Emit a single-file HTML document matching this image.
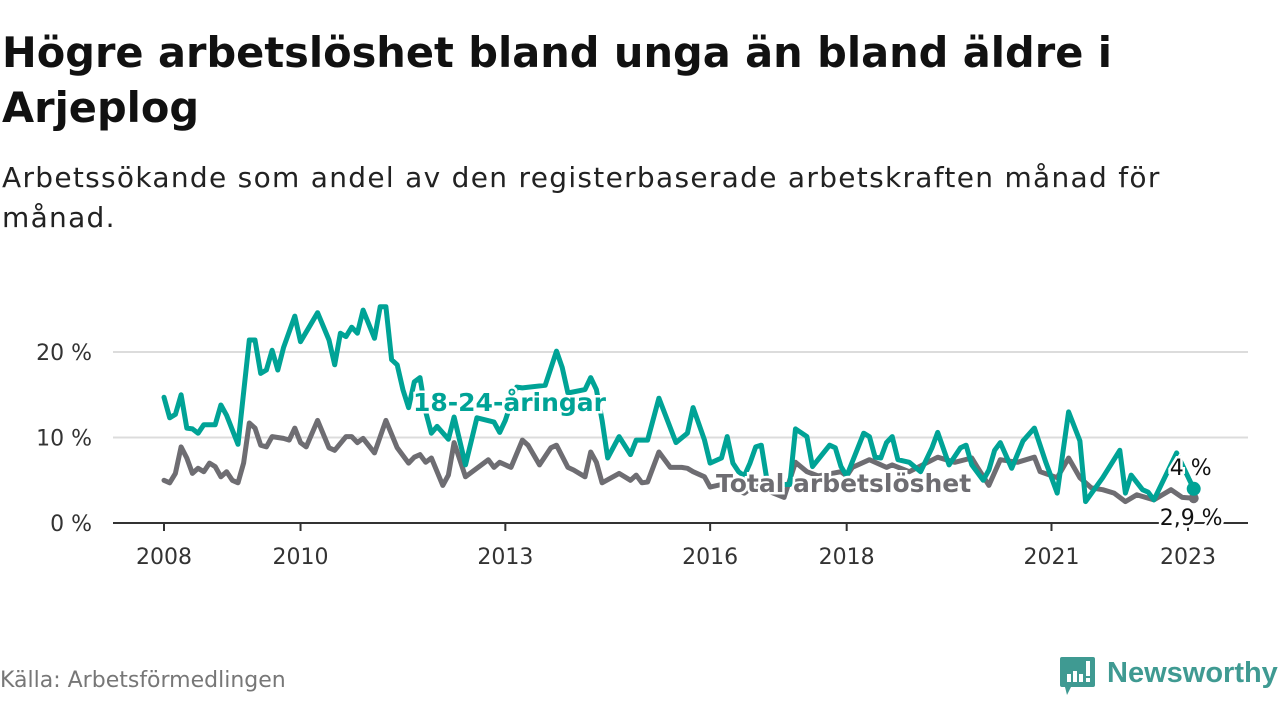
<!DOCTYPE html>
<html><head><meta charset="utf-8">
<style>
html,body{margin:0;padding:0;background:#fff;width:1280px;height:720px;overflow:hidden;font-family:"DejaVu Sans",sans-serif;}
#title{position:absolute;left:2px;top:25px;font-size:41.5px;font-weight:bold;line-height:55px;color:#111;margin:0;white-space:nowrap;}
#subtitle{position:absolute;left:2px;top:158px;font-size:28px;line-height:40px;color:#222;margin:0;white-space:nowrap;letter-spacing:1.3px;}
#source{position:absolute;left:0;top:668px;font-size:22px;color:#777;}
#logo{position:absolute;left:1060px;top:655px;}
svg text{font-family:"DejaVu Sans",sans-serif;}
</style></head><body>
<h1 id="title">Högre arbetslöshet bland unga än bland äldre i<br>Arjeplog</h1>
<p id="subtitle">Arbetssökande som andel av den registerbaserade arbetskraften månad för<br>månad.</p>
<svg id="chart" width="1280" height="720" style="position:absolute;left:0;top:0"></svg>
<div id="source">Källa: Arbetsförmedlingen</div>
<div id="logo">
<svg width="220" height="60">
<path d="M0,2 h33 a2,2 0 0 1 2,2 v26 a2,2 0 0 1 -2,2 h-22 l-4,8 l-2,-8 h-3 a2,2 0 0 1 -2,-2 v-26 a2,2 0 0 1 2,-2z" fill="#3f9a92"/>
<rect x="7" y="19" width="4" height="8" fill="#fff"/><rect x="13" y="16" width="4" height="11" fill="#fff"/><rect x="19" y="19" width="4" height="8" fill="#fff"/><rect x="26" y="6" width="4" height="15" fill="#fff"/><rect x="26" y="23" width="4" height="4" fill="#fff"/>
<text x="47" y="27" font-size="29" font-weight="bold" fill="#3f9a92" style="font-family:'Liberation Sans',sans-serif">Newsworthy</text>
</svg></div>
<script>
const youthMonths=[0,1,2,3,4,5,6,7,9,10,11,13,15,16,17,18,19,20,21,23,24,27,29,30,31,32,33,34,35,37,38,39,40,41,42,43,44,45,46,47,48,50,51,53,55,58,59,60,61,62,63,67,69,70,71,74,75,76,77,78,80,82,83,85,87,90,92,93,95,96,98,99,100,101,102,103,104,105,106,108,110,111,113,114,117,118,119,120,123,124,125,126,127,128,129,131,133,135,136,138,140,141,142,144,145,146,147,149,151,153,155,157,159,161,162,165,168,169,170,172,173,174,178,181];
const youthValues=[14.7,12.3,12.7,15.0,11.1,11.0,10.5,11.5,11.5,13.8,12.6,9.2,21.4,21.4,17.5,17.9,20.2,17.9,20.5,24.2,21.2,24.6,21.4,18.5,22.2,21.8,22.9,22.2,24.9,21.6,25.3,25.3,19.1,18.5,15.6,13.5,16.5,17.0,13.0,10.5,11.3,9.8,12.4,6.8,12.3,11.8,10.6,12.0,14.0,15.9,15.8,16.1,20.1,18.2,15.2,15.6,17.0,15.6,12.0,7.6,10.1,8.0,9.7,9.7,14.6,9.4,10.5,13.5,9.7,7.0,7.6,10.1,7.0,6.0,5.5,7.0,8.9,9.1,5.0,4.5,4.5,11.0,10.1,6.6,9.1,8.8,6.6,5.5,10.5,10.1,7.7,7.6,9.4,10.1,7.4,7.1,6.0,8.8,10.6,6.8,8.8,9.1,6.8,5.0,6.2,8.5,9.4,6.4,9.6,11.1,7.1,3.5,13.0,9.6,2.5,5.3,8.5,3.5,5.6,3.9,3.6,2.7,8.2,4.0];
const totalMonths=[0,1,2,3,4,5,6,7,8,9,10,11,12,13,14,15,16,17,18,19,21,22,23,24,25,27,29,30,32,33,34,35,37,39,41,43,44,45,46,47,49,50,51,53,57,58,59,61,63,64,66,68,69,71,72,74,75,76,77,80,82,83,84,85,87,89,91,92,93,95,96,98,100,102,104,106,109,111,113,115,119,120,121,124,127,128,131,136,139,142,143,145,147,150,153,154,157,159,161,163,165,167,169,171,174,177,179,181];
const totalValues=[5.0,4.7,5.8,8.9,7.6,5.8,6.4,6.0,7.0,6.6,5.4,6.0,5.0,4.7,7.0,11.7,11.1,9.1,8.9,10.1,9.9,9.7,11.1,9.4,8.9,12.0,8.8,8.5,10.1,10.1,9.4,9.9,8.2,12.0,8.8,7.0,7.7,8.0,7.1,7.6,4.4,5.6,9.4,5.4,7.4,6.5,7.1,6.5,9.7,9.1,6.8,8.8,9.1,6.5,6.2,5.4,8.3,7.1,4.7,5.8,5.0,5.6,4.7,4.8,8.3,6.5,6.5,6.4,6.0,5.4,4.2,4.5,4.0,3.5,4.5,3.8,3.0,7.1,6.0,5.5,6.0,5.5,6.5,7.4,6.5,6.8,6.0,7.7,7.1,7.6,6.5,4.4,7.4,7.1,7.7,6.0,5.3,7.6,5.3,4.1,3.9,3.5,2.5,3.3,2.7,3.9,3.0,2.9];
const xTickMonths=[0,24,60,96,120,156,180];
const xTickLabels=["2008","2010","2013","2016","2018","2021","2023"];
const yTicks=[0,10,20];
const yTickLabels=["0 %","10 %","20 %"];

const NS="http://www.w3.org/2000/svg";
const svg=document.getElementById('chart');
const X=m=>164+m*5.689;
const Y=v=>523-v*8.55;
function mk(tag,attrs,parent){const e=document.createElementNS(NS,tag);for(const k in attrs)e.setAttribute(k,attrs[k]);(parent||svg).appendChild(e);return e;}

yTicks.forEach((t,i)=>{
  if(t>0){const g=mk('line',{x1:113,x2:1248,y1:Y(t),y2:Y(t),stroke:'#dcdcdc','stroke-width':2});
  
  }
  const l=mk('text',{x:92,y:Y(t)+8,'text-anchor':'end','font-size':22,fill:'#333'});l.textContent=yTickLabels[i];
  
  
});
const ax=mk('line',{x1:113,x2:1248,y1:523,y2:523,stroke:'#333','stroke-width':2});


xTickMonths.forEach((m,i)=>{
  const t=mk('line',{x1:X(m),x2:X(m),y1:523,y2:531,stroke:'#333','stroke-width':2});
  
  
  const l=mk('text',{x:X(m),y:564,'text-anchor':'middle','font-size':22,fill:'#333'});l.textContent=xTickLabels[i];
  
  
});
function line(ms,vs,color,name){
  const d=ms.map((m,i)=>(i?'L':'M')+X(m).toFixed(1)+','+Y(vs[i]).toFixed(1)).join('');
  const p=mk('path',{d:d,fill:'none',stroke:color,'stroke-width':5,'stroke-linejoin':'round','stroke-linecap':'round'});
  
  
}
line(totalMonths,totalValues,'#6e6d72','total-line');
line(youthMonths,youthValues,'#00a396','youth-line');
function label(x,y,txt,color,size,weight,anchor,name){
  const t=mk('text',{x:x,y:y,'font-size':size,'font-weight':weight,fill:color,stroke:'#fff','stroke-width':5,'paint-order':'stroke','text-anchor':anchor});
  t.textContent=txt;
  
  
}
label(413,411,'18-24-åringar','#00a396',25,'bold','start','youth-series-label');
label(716,492,'Total arbetslöshet','#6e6d72',25,'bold','start','total-series-label');
const lm=youthMonths[youthMonths.length-1];
const dg=mk('circle',{cx:X(lm),cy:Y(totalValues[totalValues.length-1]),r:5,fill:'#6e6d72'});


const dt=mk('circle',{cx:X(lm),cy:Y(youthValues[youthValues.length-1]),r:7,fill:'#00a396'});


label(X(lm)-24,Y(youthValues[youthValues.length-1])-14,String(youthValues[youthValues.length-1]).replace('.',',')+' %','#111',22,'normal','start','youth-end-value');
label(X(lm)-34,Y(totalValues[totalValues.length-1])+27,String(totalValues[totalValues.length-1]).replace('.',',')+' %','#111',22,'normal','start','total-end-value');
</script>
</body></html>
